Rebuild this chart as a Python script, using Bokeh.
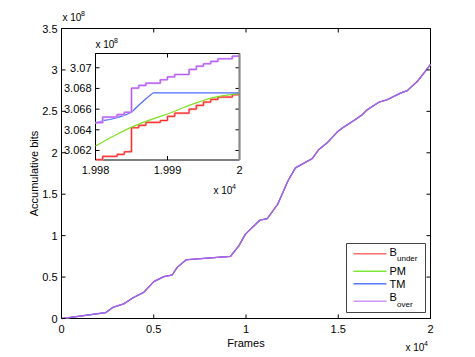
import math
from bokeh.plotting import figure
from bokeh.models import Range1d
from bokeh.embed import file_html
from bokeh.resources import INLINE
from bokeh.core.properties import value

# ---------------- data ----------------
# main view: frames vs accumulative bits (x 1e8); all four series coincide
main_frames = [0, 400, 2385, 2800, 3380, 3880, 4460, 5000, 5550, 6000, 6270, 6760,
               9160, 9340, 9610, 9970, 10240, 10750, 11150, 11720, 12270, 12680,
               13590, 13950, 14400, 14940, 15300, 15850, 16300, 16570, 17200, 17650,
               18370, 18740, 19280, 19640, 20000]
main_bits = [0.0, 0.01, 0.07, 0.136, 0.177, 0.25, 0.316, 0.445, 0.505, 0.525, 0.617, 0.709,
             0.749, 0.80, 0.877, 1.018, 1.078, 1.186, 1.205, 1.379, 1.659, 1.818,
             1.93, 2.04, 2.12, 2.25, 2.31, 2.39, 2.46, 2.52, 2.61, 2.64,
             2.72, 2.75, 2.86, 2.96, 3.0675]

# inset: last 20 frames (bits x 1e8)
inset_frames = [19980, 19981, 19982, 19983, 19984, 19985, 19986, 19987, 19988, 19989, 19990,
                19991, 19992, 19993, 19994, 19995, 19996, 19997, 19998, 19999, 20000]
b_under = [3.06111, 3.06143, 3.06143, 3.06162, 3.06188, 3.06420, 3.06443, 3.06472, 3.06472,
           3.06490, 3.06530, 3.06561, 3.06561, 3.06600, 3.06636, 3.06668, 3.06694, 3.06716,
           3.06716, 3.06739, 3.06739]
pm = [3.06243, 3.06282, 3.06320, 3.06357, 3.06392, 3.06426, 3.06455, 3.06482, 3.06506,
      3.06530, 3.06553, 3.06580, 3.06608, 3.06636, 3.06660, 3.06684, 3.06706, 3.06721,
      3.06733, 3.06742, 3.06749]
tm = [3.06465, 3.06488, 3.06500, 3.06518, 3.06540, 3.06570, 3.06637, 3.06700, 3.06757,
      3.06757, 3.06757, 3.06757, 3.06757, 3.06757, 3.06757, 3.06757, 3.06757, 3.06757,
      3.06757, 3.06757, 3.06757]
b_over = [3.06469, 3.06523, 3.06523, 3.06546, 3.06570, 3.06803, 3.06829, 3.06851, 3.06851,
          3.06884, 3.06912, 3.06935, 3.06935, 3.06984, 3.07015, 3.07039, 3.07061, 3.07087,
          3.07087, 3.07112, 3.07112]

main_x_range = (0, 20000)
main_y_range = (0, 3.5)
x_ticks = [0, 5000, 10000, 15000, 20000]
x_tick_labels = ["0", "0.5", "1", "1.5", "2"]
y_ticks = [0, 0.5, 1, 1.5, 2, 2.5, 3, 3.5]
y_tick_labels = ["0", "0.5", "1", "1.5", "2", "2.5", "3", "3.5"]
x_label = "Frames"
y_label = "Accumulative bits"
x_exp, y_exp = "4", "8"

inset_x_range = (19980, 20000)
inset_y_range = (3.06108, 3.07138)
inset_x_ticks = [19980, 19990, 20000]
inset_x_tick_labels = ["1.998", "1.999", "2"]
inset_y_ticks = [3.062, 3.064, 3.066, 3.068, 3.070]
inset_y_tick_labels = ["3.062", "3.064", "3.066", "3.068", "3.07"]

legend_labels = ["B", "PM", "TM", "B"]
legend_subs = ["under", "", "", "over"]

# ---------------- styles / layout ----------------
FONT = "Liberation Sans"
C_UNDER, C_UNDER_L = "#ff2a2a", "#ff9a9a"
C_PM = "#7ee020"
C_TM = "#4d6bff"
C_OVER, C_OVER_L = "#b45af0", "#dcaaff"
C_MAIN = "#b35cf2"
legend_colors = ["#ff6f6f", "#7ee83a", "#5a78ff", "#cf94ff"]

W, H = 475, 357
FL, FR, FT, FB = 61, 430, 28, 318          # main axes box (canvas px, y down)
IL, IR, IT, IB = 95, 239, 53, 159.5        # inset axes box
TICK = 4                                   # inward tick length, px


def span_range(v0, v1, p0, p1, total):
    """Range whose values v0, v1 fall at canvas pixels p0, p1 (measured from start)."""
    k = (v1 - v0) / (p1 - p0)
    start = v0 - p0 * k
    return Range1d(start, start + total * k)


p = figure(width=W, height=H, output_backend="svg", toolbar_location=None,
           x_axis_type=None, y_axis_type=None,
           x_range=span_range(main_x_range[0], main_x_range[1], FL, FR, W),
           y_range=span_range(main_y_range[0], main_y_range[1], H - FB, H - FT, H),
           min_border=0)
p.grid.visible = False
p.outline_line_color = None
p.background_fill_color = "white"
p.border_fill_color = "white"

p.extra_x_ranges = {"ix": span_range(inset_x_range[0], inset_x_range[1], IL, IR, W),
                    "px": Range1d(0, W)}
p.extra_y_ranges = {"iy": span_range(inset_y_range[0], inset_y_range[1], H - IB, H - IT, H),
                    "py": Range1d(H, 0)}
I = dict(x_range_name="ix", y_range_name="iy")
P = dict(x_range_name="px", y_range_name="py")
TXT = dict(text_font=value(FONT), text_color="black")


def draw_axes(xr, yr, xt, xl, yt, yl, box, fs, kw, right_grey=False):
    x0, x1 = xr
    y0, y1 = yr
    L, R, T, B = box
    tx = TICK * (x1 - x0) / (R - L)
    ty = TICK * (y1 - y0) / (B - T)
    n, m = len(yt), len(xt)
    p.segment(x0=[x0] * n, x1=[x0 + tx] * n, y0=yt, y1=yt, line_color="black", **kw)
    p.segment(x0=[x1 - tx] * n, x1=[x1] * n, y0=yt, y1=yt, line_color="black", **kw)
    p.segment(x0=xt, x1=xt, y0=[y0] * m, y1=[y0 + ty] * m, line_color="black", **kw)
    p.segment(x0=xt, x1=xt, y0=[y1 - ty] * m, y1=[y1] * m, line_color="black", **kw)
    p.text(x=[x0] * n, y=yt, text=yl, x_offset=-4, text_align="right",
           text_baseline="middle", text_font_size=fs, **TXT, **kw)
    p.text(x=xt, y=[y0] * m, text=xl, y_offset=10, text_align="center",
           text_baseline="middle", text_font_size=fs, **TXT, **kw)
    if right_grey:
        p.segment(x0=[x1], x1=[x1], y0=[y0], y1=[y1], line_color="#8a8a8a",
                  line_width=2.2, **kw)


# ---------------- main axes ----------------
p.quad(left=[main_x_range[0]], right=[main_x_range[1]], bottom=[main_y_range[0]],
       top=[main_y_range[1]], fill_color=None, line_color="black", line_width=1)
for c in (C_UNDER_L, C_PM, C_TM):
    p.line(main_frames, main_bits, line_color=c, line_width=1.2)
p.line(main_frames, main_bits, line_color=C_MAIN, line_width=1.3)
draw_axes(main_x_range, main_y_range, x_ticks, x_tick_labels, y_ticks, y_tick_labels,
          (FL, FR, FT, FB), "11px", {})

p.text(x=[(FL + FR) / 2], y=[342], text=[x_label], text_align="center",
       text_baseline="middle", text_font_size="11px", **TXT, **P)
p.text(x=[33], y=[(FT + FB) / 2], text=[y_label], angle=math.pi / 2, text_align="center",
       text_baseline="middle", text_font_size="11px", **TXT, **P)

# ---------------- inset ----------------
p.quad(left=[inset_x_range[0]], right=[inset_x_range[1]], bottom=[inset_y_range[0]],
       top=[inset_y_range[1]], fill_color="white", line_color="black", line_width=1, **I)
p.step(inset_frames, b_under, mode="after", line_color=C_UNDER_L, line_width=2.2, **I)
p.step(inset_frames, b_under, mode="after", line_color=C_UNDER, line_width=1, **I)
p.line(inset_frames, pm, line_color=C_PM, line_width=1.2, **I)
p.line(inset_frames, tm, line_color=C_TM, line_width=1.2, **I)
p.step(inset_frames, b_over, mode="after", line_color=C_OVER_L, line_width=2.2, **I)
p.step(inset_frames, b_over, mode="after", line_color=C_OVER, line_width=1, **I)
draw_axes(inset_x_range, inset_y_range, inset_x_ticks, inset_x_tick_labels, inset_y_ticks,
          inset_y_tick_labels, (IL, IR, IT, IB), "11px", I, right_grey=True)

# ---------------- exponent texts (x 10^n) ----------------
exp_pos = [(62, 17), (405, 347), (95, 44), (213, 190)]   # left / centre-y of "x 10"
exp_txt = [y_exp, x_exp, y_exp, x_exp]
p.text(x=[a for a, b in exp_pos], y=[b for a, b in exp_pos], text=["x 10"] * 4,
       text_align="left", text_baseline="middle", text_font_size="10px", **TXT, **P)
p.text(x=[a + 18.5 for a, b in exp_pos], y=[b - 4.5 for a, b in exp_pos], text=exp_txt,
       text_align="left", text_baseline="middle", text_font_size="7px", **TXT, **P)

# ---------------- legend ----------------
LL, LR, LT, LB = 346, 425, 243, 312
row_y = [253.3, 270.7, 283.3, 300.7]
label_y = [251.5, 270.7, 283.3, 296.8]
sub_y = [257.8, None, None, 304.0]
p.quad(left=[LL], right=[LR], top=[LT], bottom=[LB], fill_color="white",
       line_color="#444444", line_width=1, **P)
k = len(legend_labels)
p.segment(x0=[353] * k, x1=[386] * k, y0=row_y, y1=row_y, line_color=legend_colors,
          line_width=1.4, **P)
p.text(x=[389] * k, y=label_y, text=legend_labels, text_align="left",
       text_baseline="middle", text_font_size="11px", **TXT, **P)
sx, sy, st = [], [], []
for sub, yy in zip(legend_subs, sub_y):
    if sub:
        sx.append(396.5)
        sy.append(yy)
        st.append(sub)
p.text(x=sx, y=sy, text=st, text_align="left", text_baseline="middle",
       text_font_size="8px", **TXT, **P)

open("out.html", "w").write(file_html(p, INLINE))
